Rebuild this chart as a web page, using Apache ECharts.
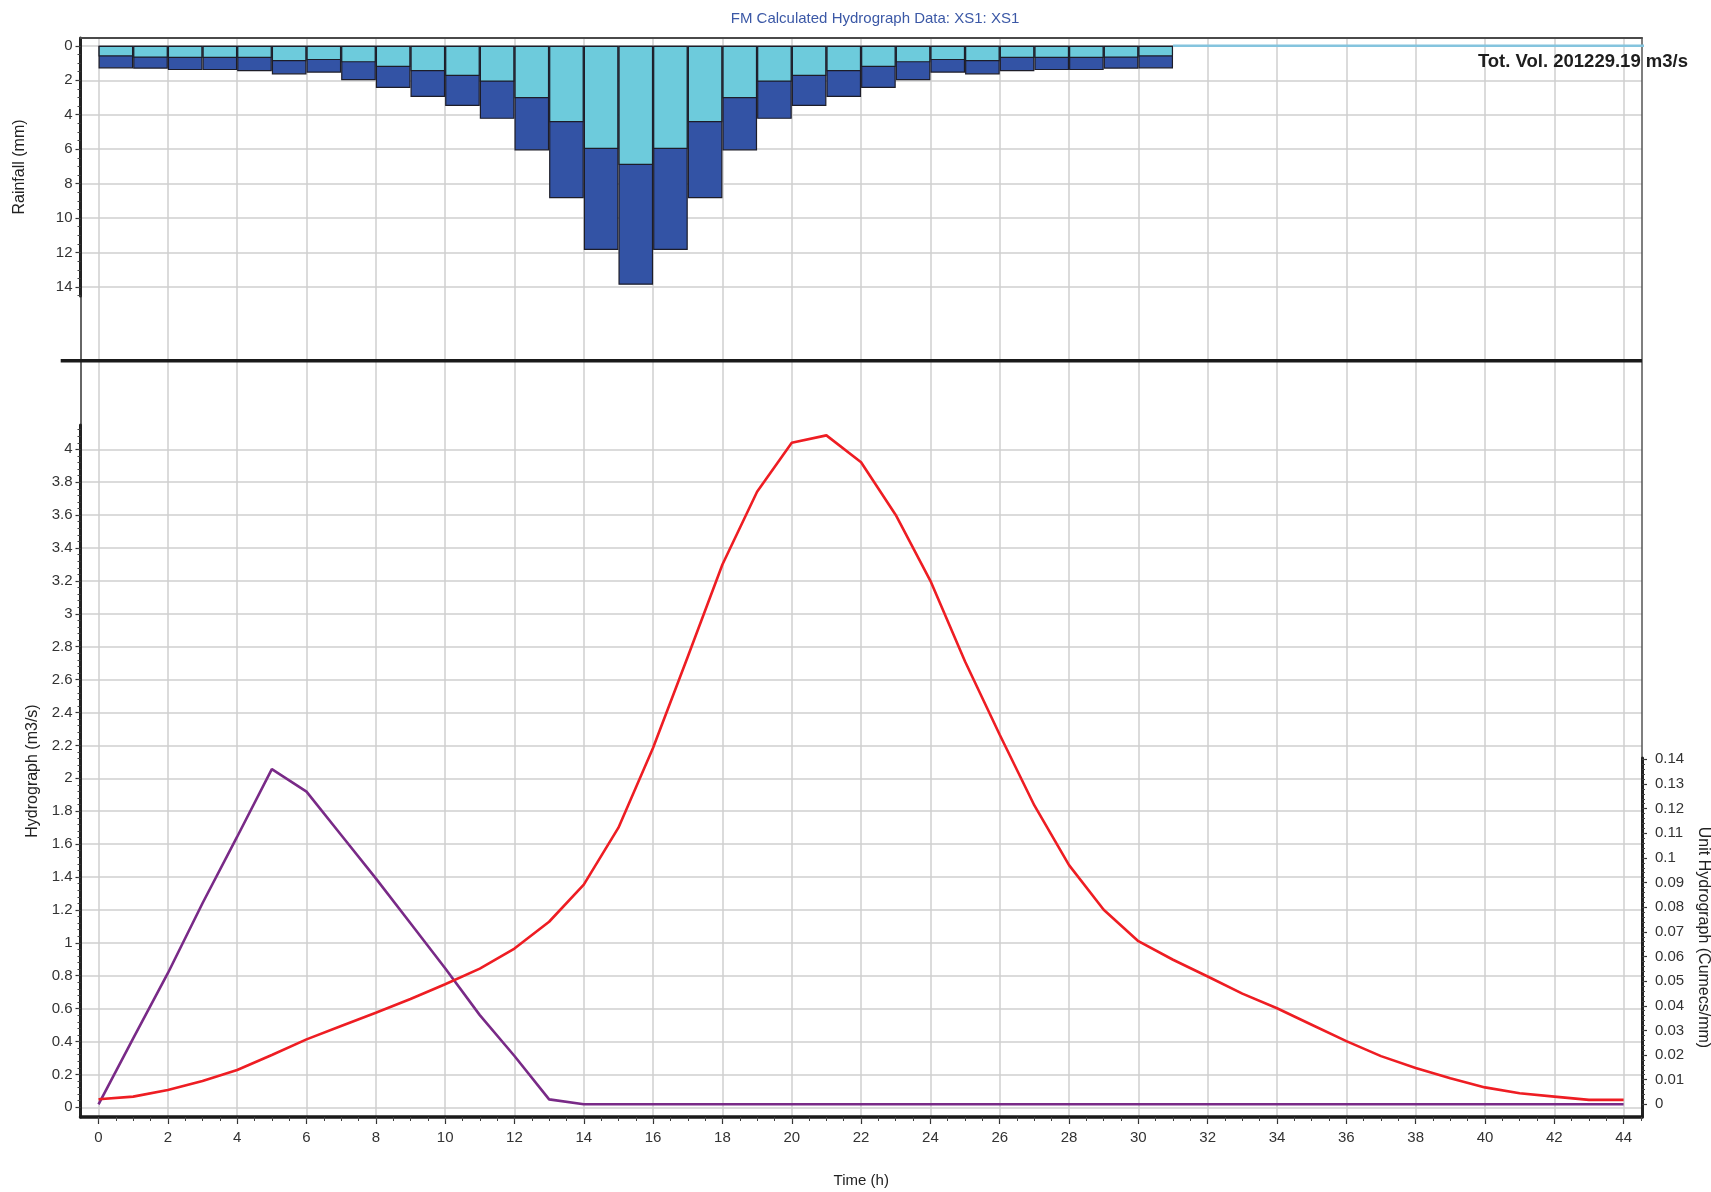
<!DOCTYPE html>
<html>
<head>
<meta charset="utf-8">
<script src="https://cdn.jsdelivr.net/npm/echarts@6/dist/echarts.min.js"></script>
<style>html,body{margin:0;padding:0;background:#fff}#c{width:1711px;height:1192px}</style>
</head>
<body>
<div id="c"></div>
<script>
// ---------------- DATA ----------------
// start hour of each one-hour rainfall interval
const rainHours = [0,1,2,3,4,5,6,7,8,9,10,11,12,13,14,15,16,17,18,19,20,21,22,23,24,25,26,27,28,29,30,31,32,33,34,35,36,37,38,39,40,41,42,43,44];
// depth of the upper (light) part of each rainfall bar, mm
const rainLoss = [0.62,0.69,0.71,0.71,0.71,0.89,0.83,0.96,1.23,1.48,1.75,2.08,3.04,4.43,5.99,6.92,5.99,4.43,3.04,2.08,1.75,1.48,1.23,0.96,0.83,0.89,0.71,0.71,0.71,0.69,0.62,0,0,0,0,0,0,0,0,0,0,0,0,0,0];
// total depth of each rainfall bar (bottom of the dark part), mm
const rainTotal = [1.31,1.33,1.41,1.41,1.48,1.66,1.56,2.00,2.45,2.97,3.49,4.24,6.07,8.84,11.85,13.87,11.85,8.84,6.07,4.24,3.49,2.97,2.45,2.00,1.56,1.66,1.48,1.41,1.41,1.33,1.31,0,0,0,0,0,0,0,0,0,0,0,0,0,0];

const flowHours = [0,1,2,3,4,5,6,7,8,9,10,11,12,13,14,15,16,17,18,19,20,21,22,23,24,25,26,27,28,29,30,31,32,33,34,35,36,37,38,39,40,41,42,43,44];
// Hydrograph (m3/s)
const hydrograph = [0.049,0.065,0.105,0.160,0.227,0.318,0.413,0.494,0.575,0.658,0.748,0.843,0.965,1.128,1.354,1.700,2.186,2.739,3.300,3.742,4.040,4.085,3.921,3.601,3.201,2.710,2.265,1.835,1.472,1.201,1.010,0.897,0.795,0.691,0.602,0.502,0.402,0.311,0.239,0.176,0.121,0.085,0.065,0.045,0.045];
// Unit hydrograph (Cumecs/mm)
const unitHydrograph = [0,0.0268,0.0532,0.0816,0.1086,0.1360,0.1269,0.1093,0.0917,0.0735,0.0552,0.0362,0.0196,0.0020,0,0,0,0,0,0,0,0,0,0,0,0,0,0,0,0,0,0,0,0,0,0,0,0,0,0,0,0,0,0,0];

// tick labels
const hourTicks = [0,2,4,6,8,10,12,14,16,18,20,22,24,26,28,30,32,34,36,38,40,42,44];
const rainTicks = [0,2,4,6,8,10,12,14];
const flowTicks = [0,0.2,0.4,0.6,0.8,1,1.2,1.4,1.6,1.8,2,2.2,2.4,2.6,2.8,3,3.2,3.4,3.6,3.8,4];
const unitTicks = [0,0.01,0.02,0.03,0.04,0.05,0.06,0.07,0.08,0.09,0.1,0.11,0.12,0.13,0.14];

// ---------------- LAYOUT / STYLE ----------------
const FONT = "'Liberation Sans',Arial,sans-serif";
const GL = 80.5, GR = 69;
const X_MIN = -0.52, X_MAX = 44.53;
const GRIDC = '#cfcfcf';
function steps(a, b, s) { const r = []; for (let i = 0; a + i * s <= b + 1e-9; i++) r.push(+(a + i * s).toFixed(4)); return r; }
const minorX = steps(0, 44.5, 0.5);
const minorRain = steps(0, 14.5, 0.5);
const minorFlow = steps(0, 4.12, 0.04);
const minorUnit = steps(0, 0.14, 0.002);

const lbl = { fontFamily: FONT, fontSize: 15, color: '#333' };
const nameStyle = { fontFamily: FONT, fontSize: 16, color: '#222' };

function minorAxis(grid, min, max, pos, vals, extra) {
  return Object.assign({
    gridIndex: grid, type: 'value', min: min, max: max, position: pos,
    axisLine: { show: false, onZero: false },
    axisTick: { show: true, customValues: vals, length: 3, lineStyle: { color: '#444', width: 1 } },
    axisLabel: { show: false }, splitLine: { show: false }
  }, extra || {});
}

// bars for wet intervals, a flat light line for the dry ones
const wetIdx = rainHours.map((h, i) => i).filter(i => rainTotal[i] > 0);
const zeroRainLine = [];
rainHours.forEach((h, i) => { if (rainTotal[i] === 0) { zeroRainLine.push([h, 0], [h + 1, 0]); } });

const gridBase = { left: GL, right: GR, containLabel: false, outerBoundsMode: 'none' };

const option = {
  animation: false,
  backgroundColor: '#ffffff',
  title: [
    { text: 'FM Calculated Hydrograph Data: XS1: XS1', left: 875, top: 11, textAlign: 'center', padding: 0,
      textStyle: { fontFamily: FONT, fontSize: 15, fontWeight: 'normal', color: '#3b58a6' } },
    { text: 'Tot. Vol. 201229.19 m3/s', right: 23, top: 52, padding: 0,
      textStyle: { fontFamily: FONT, fontSize: 18.5, fontWeight: 'bold', color: '#1e1e1e' } }
  ],
  grid: [
    Object.assign({ top: 38, bottom: 75 }, gridBase),     // background frame + vertical grid
    Object.assign({ top: 38, height: 258 }, gridBase),    // rainfall
    Object.assign({ top: 425, bottom: 75 }, gridBase),    // hydrograph
    Object.assign({ top: 758, bottom: 75 }, gridBase)     // unit hydrograph
  ],
  xAxis: [
    { gridIndex: 0, type: 'value', min: X_MIN, max: X_MAX, position: 'top',
      axisLine: { show: true, onZero: false, lineStyle: { color: '#4a4a4a', width: 2 } },
      axisTick: { show: false, customValues: hourTicks },
      axisLabel: { show: false, customValues: hourTicks },
      splitLine: { show: true, lineStyle: { color: GRIDC, width: 1.5 } } },
    { gridIndex: 1, type: 'value', min: X_MIN, max: X_MAX, show: false },
    { gridIndex: 2, type: 'value', min: X_MIN, max: X_MAX, position: 'bottom',
      name: 'Time (h)', nameLocation: 'middle', nameGap: 56, nameTextStyle: { fontFamily: FONT, fontSize: 15, color: '#222' },
      axisLine: { show: true, onZero: false, lineStyle: { color: '#1a1a1a', width: 3.5 } },
      axisTick: { show: true, customValues: hourTicks, length: 7, lineStyle: { color: '#333', width: 1.2 } },
      axisLabel: Object.assign({ customValues: hourTicks, margin: 13 }, lbl),
      splitLine: { show: false } },
    minorAxis(2, X_MIN, X_MAX, 'bottom', minorX, { axisTick: { show: true, customValues: minorX, length: 4, lineStyle: { color: '#444', width: 1 } } }),
    { gridIndex: 3, type: 'value', min: X_MIN, max: X_MAX, show: false }
  ],
  yAxis: [
    { gridIndex: 0, type: 'value', position: 'left',
      axisLine: { show: true, onZero: false, lineStyle: { color: '#333', width: 1.5 } },
      axisTick: { show: false }, axisLabel: { show: false }, splitLine: { show: false } },
    { gridIndex: 0, type: 'value', position: 'right',
      axisLine: { show: true, onZero: false, lineStyle: { color: '#555', width: 1.5 } },
      axisTick: { show: false }, axisLabel: { show: false }, splitLine: { show: false } },
    { gridIndex: 1, type: 'value', inverse: true, min: -0.453, max: 14.52, position: 'left',
      name: 'Rainfall (mm)', nameLocation: 'middle', nameGap: 53, nameTextStyle: nameStyle,
      axisLine: { show: true, onZero: false, lineStyle: { color: '#222', width: 3 } },
      axisTick: { show: true, customValues: rainTicks, length: 5, lineStyle: { color: '#333', width: 1.2 } },
      axisLabel: Object.assign({ customValues: rainTicks, margin: 8 }, lbl),
      splitLine: { show: true, lineStyle: { color: GRIDC, width: 1.5 } } },
    minorAxis(1, -0.453, 14.52, 'left', minorRain, { inverse: true }),
    { gridIndex: 2, type: 'value', min: -0.059, max: 4.148, position: 'left',
      name: 'Hydrograph (m3/s)', nameLocation: 'middle', nameGap: 40, nameTextStyle: nameStyle,
      axisLine: { show: true, onZero: false, lineStyle: { color: '#222', width: 3 } },
      axisTick: { show: true, customValues: flowTicks, length: 5, lineStyle: { color: '#333', width: 1.2 } },
      axisLabel: Object.assign({ customValues: flowTicks, margin: 8 }, lbl),
      splitLine: { show: true, lineStyle: { color: GRIDC, width: 1.5 } } },
    minorAxis(2, -0.059, 4.148, 'left', minorFlow),
    { gridIndex: 3, type: 'value', min: -0.00515, max: 0.14055, position: 'right',
      name: 'Unit Hydrograph (Cumecs/mm)', nameLocation: 'middle', nameGap: 45, nameRotate: -90, nameTextStyle: nameStyle,
      axisLine: { show: true, onZero: false, lineStyle: { color: '#222', width: 3 } },
      axisTick: { show: true, customValues: unitTicks, length: 5, lineStyle: { color: '#333', width: 1.2 } },
      axisLabel: Object.assign({ customValues: unitTicks, margin: 13 }, lbl),
      splitLine: { show: false } },
    minorAxis(3, -0.00515, 0.14055, 'right', minorUnit)
  ],
  graphic: [
    { type: 'line', z: 10, shape: { x1: 60.7, y1: 360.7, x2: 1642, y2: 360.7 },
      style: { stroke: '#1a1a1a', lineWidth: 3.5 } }
  ],
  series: [
    { name: 'Total rainfall', type: 'bar', xAxisIndex: 1, yAxisIndex: 2, barWidth: '100%', barGap: '-100%', clip: true,
      data: wetIdx.map(i => [rainHours[i] + 0.5, rainTotal[i]]),
      itemStyle: { color: '#3353a5', borderColor: '#1d1d29', borderWidth: 1.2 } },
    { name: 'Rainfall loss', type: 'bar', xAxisIndex: 1, yAxisIndex: 2, barWidth: '100%', barGap: '-100%', clip: true,
      data: wetIdx.map(i => [rainHours[i] + 0.5, rainLoss[i]]),
      itemStyle: { color: '#6dcbdc', borderColor: '#1d1d29', borderWidth: 1.2 } },
    { name: 'Zero rainfall', type: 'line', xAxisIndex: 1, yAxisIndex: 2, z: 5, symbol: 'none', clip: true,
      data: zeroRainLine, lineStyle: { color: '#84c4de', width: 2.5 } },
    { name: 'Hydrograph', type: 'line', xAxisIndex: 2, yAxisIndex: 4, symbol: 'none', z: 4,
      data: flowHours.map((h, i) => [h, hydrograph[i]]), lineStyle: { color: '#ee1d23', width: 2.6 } },
    { name: 'Unit Hydrograph', type: 'line', xAxisIndex: 4, yAxisIndex: 6, symbol: 'none', z: 3,
      data: flowHours.map((h, i) => [h, unitHydrograph[i]]), lineStyle: { color: '#792a87', width: 2.6 } }
  ]
};

const chart = echarts.init(document.getElementById('c'), null, { renderer: 'canvas' });
chart.setOption(option);
</script>
</body>
</html>
